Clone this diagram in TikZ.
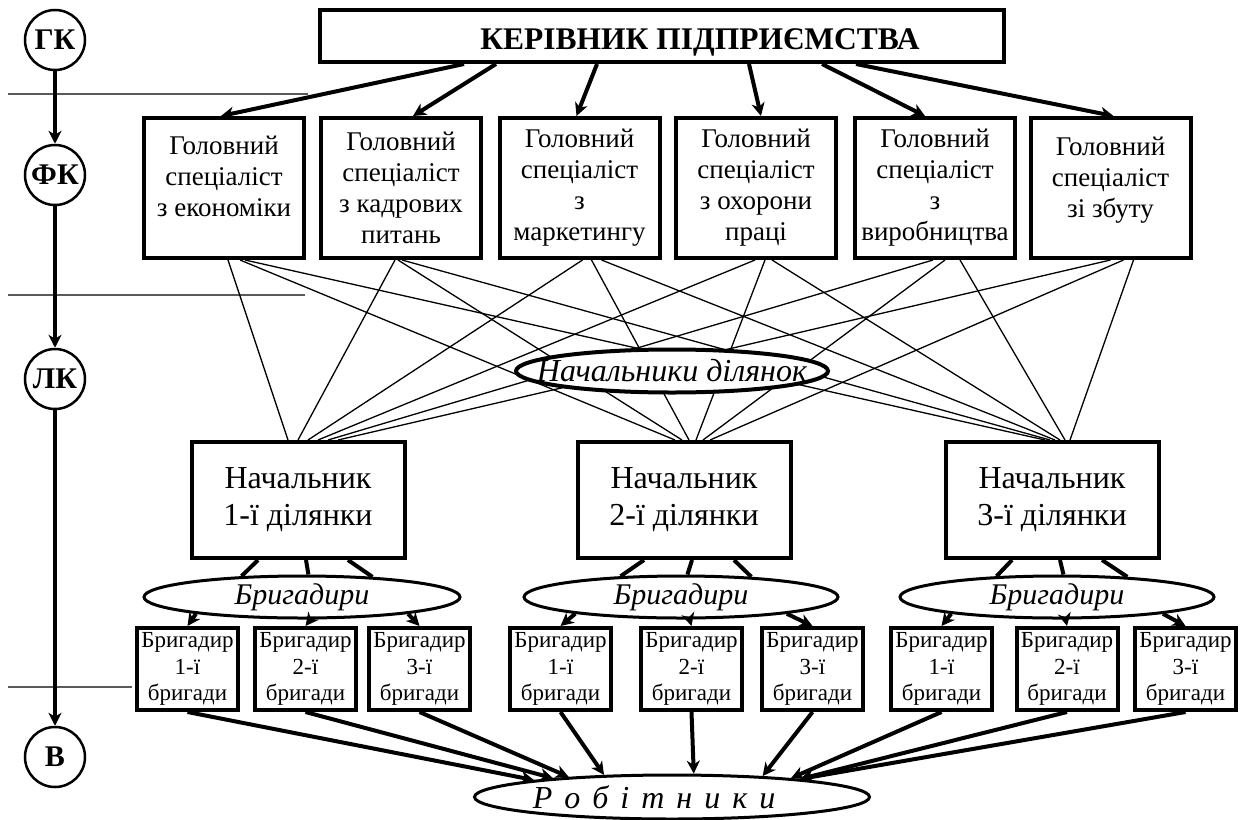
\documentclass[tikz,border=0pt]{standalone}
\usepackage{fontspec}
\setmainfont{Liberation Serif}
\usetikzlibrary{shapes.geometric,arrows.meta}
\newcommand\lsp{\hspace{12pt}}
\begin{document}
\begin{tikzpicture}[x=1pt,y=-1pt,
  box/.style={draw, line width=4pt, rectangle, inner sep=0pt, align=center, fill=white},
  spec/.style={box, minimum width=160pt, minimum height=140pt, font=\fontsize{27}{31}\selectfont},
  sect/.style={box, minimum width=213pt, minimum height=116pt, font=\fontsize{32}{37}\selectfont},
  brig/.style={box, minimum width=101pt, minimum height=82pt, font=\fontsize{23}{26.5}\selectfont},
  lvl/.style={draw, circle, line width=2.5pt, minimum size=60pt, inner sep=0pt, font=\bfseries\fontsize{30}{32}\selectfont},
  oval/.style={draw, ellipse, line width=3pt, fill=white, inner sep=0pt, font=\itshape\fontsize{30}{34}\selectfont},
  arr/.style={line width=4pt, -{Stealth[length=13pt,width=13pt,inset=4pt]}},
  link/.style={line width=4pt},
  thinlink/.style={line width=1.3pt},
  sepline/.style={line width=1.5pt, black!65},
]
\path[use as bounding box] (0,0) rectangle (1241,819);

% separator lines
\draw[sepline] (8,94) -- (308,94);
\draw[sepline] (8,295) -- (305,295);
\draw[sepline] (8,687) -- (132,687);

% level circles
\node[lvl] (gk) at (55,40) {ГК};
\node[lvl] (fk) at (55,175) {ФК};
\node[lvl] (lk) at (55,379) {ЛК};
\node[lvl] (vv) at (55,757) {В};
\draw[arr] (gk) -- (fk);
\draw[arr] (fk) -- (lk);
\draw[arr] (lk) -- (vv);

% top box
\node[box, minimum width=684pt, minimum height=52pt] (top) at (662,36) {};
\node[font=\bfseries\fontsize{31.5}{34}\selectfont] (toptext) at (700,42) {КЕРІВНИК ПІДПРИЄМСТВА};

% specialists
\node[spec, text depth=24pt] (s1) at (224,188) {Головний\\спеціаліст\\з економіки};
\node[spec] (s2) at (401,188) {Головний\\спеціаліст\\з кадрових\\питань};
\node[spec] (s3) at (579.5,188) {Головний\\спеціаліст\\з\\маркетингу};
\node[spec] (s4) at (756,188) {Головний\\спеціаліст\\з охорони\\праці};
\node[spec] (s5) at (935,188) {Головний\\спеціаліст\\з\\виробництва};
\node[spec, text depth=22pt] (s6) at (1110.5,188) {Головний\\спеціаліст\\зі збуту};

\draw[arr] ([xshift=146pt]top.south west) -- ([xshift=-3pt]s1.north);
\draw[arr] ([xshift=178pt]top.south west) -- ([xshift=12pt]s2.north);
\draw[arr] ([xshift=279pt]top.south west) -- ([xshift=-3pt]s3.north);
\draw[arr] ([xshift=431pt]top.south west) -- ([xshift=5pt]s4.north);
\draw[arr] ([xshift=504pt]top.south west) -- ([xshift=-10pt]s5.north);
\draw[arr] ([xshift=538pt]top.south west) -- ([xshift=3pt]s6.north);

% section heads
\node[sect] (n1) at (298,500) {Начальник\\1-ї ділянки};
\node[sect] (n2) at (684,500) {Начальник\\2-ї ділянки};
\node[sect] (n3) at (1052,500) {Начальник\\3-ї ділянки};

% crossing lines
\foreach \i/\a/\b/\c in {1/4/16/21, 2/-6/-3/1, 3/3/12/22, 4/-1/9/16, 5/-2/10/25, 6/0/13/23}{
  \draw[thinlink] ([xshift=\a pt]s\i.south) -- ([xshift={(10*\i-20)*1pt}]n1.north);
  \draw[thinlink] ([xshift=\b pt]s\i.south) -- ([xshift={(7*\i-16)*1pt}]n2.north);
  \draw[thinlink] ([xshift=\c pt]s\i.south) -- ([xshift={(5*\i-12)*1pt}]n3.north);
}
\node[oval, line width=4pt, minimum width=312pt, minimum height=43pt, font=\itshape\fontsize{32}{34}\selectfont] (nd) at (672,371) {\makebox[0pt]{Начальники ділянок}};

% brigadier ellipses
\node[oval, minimum width=316pt, minimum height=42pt] (b1) at (302,597) {\makebox[0pt]{Бригадири}};
\node[oval, minimum width=314pt, minimum height=42pt] (b2) at (681,597) {\makebox[0pt]{Бригадири}};
\node[oval, minimum width=314pt, minimum height=42pt] (b3) at (1057,597) {\makebox[0pt]{Бригадири}};

\foreach \k in {1,2,3}{
  \draw[link] ([xshift=-40pt]n\k.south) -- (b\k.161.4);
  \draw[link] ([xshift=8pt]n\k.south) -- (b\k.74);
  \draw[link] ([xshift=50pt]n\k.south) -- (b\k.16.7);
}

% brigadiers
\node[brig] (r11) at (187.5,669) {Бригадир\\1-ї\\бригади};
\node[brig] (r12) at (305.5,669) {Бригадир\\2-ї\\бригади};
\node[brig] (r13) at (419.5,669) {Бригадир\\3-ї\\бригади};
\node[brig] (r21) at (560.5,669) {Бригадир\\1-ї\\бригади};
\node[brig] (r22) at (691.5,669) {Бригадир\\2-ї\\бригади};
\node[brig] (r23) at (812.5,669) {Бригадир\\3-ї\\бригади};
\node[brig] (r31) at (941.5,669) {Бригадир\\1-ї\\бригади};
\node[brig] (r32) at (1067,669) {Бригадир\\2-ї\\бригади};
\node[brig] (r33) at (1185.5,669) {Бригадир\\3-ї\\бригади};

\foreach \k in {1,2,3}{
  \draw[arr] (b\k.189.2) -- (r\k1.north);
  \draw[arr] (b\k.291) -- (r\k2.north);
  \draw[arr] (b\k.351.5) -- (r\k3.north);
}

% workers
\node[oval, minimum width=395pt, minimum height=44pt, font=\itshape\fontsize{32}{34}\selectfont] (rob) at (672,797) {\makebox[0pt]{Р\lsp о\lsp б\lsp і\lsp т\lsp н\lsp и\lsp к\lsp и\hspace{36pt}}};

\draw[arr] (r11.south) -- (rob.173.1);
\draw[arr] (r12.south) -- (rob.171.6);
\draw[arr] (r13.south) -- (rob.169.1);
\draw[arr] (r21.south) -- (rob.162);
\draw[arr] (r22.south) -- (rob.47.6);
\draw[arr] (r23.south) -- (rob.13.9);
\draw[arr] (r31.south) -- (rob.9.3);
\draw[arr] (r32.south) -- (rob.8.8);
\draw[arr] (r33.south) -- (rob.8.3);
\end{tikzpicture}
\end{document}
